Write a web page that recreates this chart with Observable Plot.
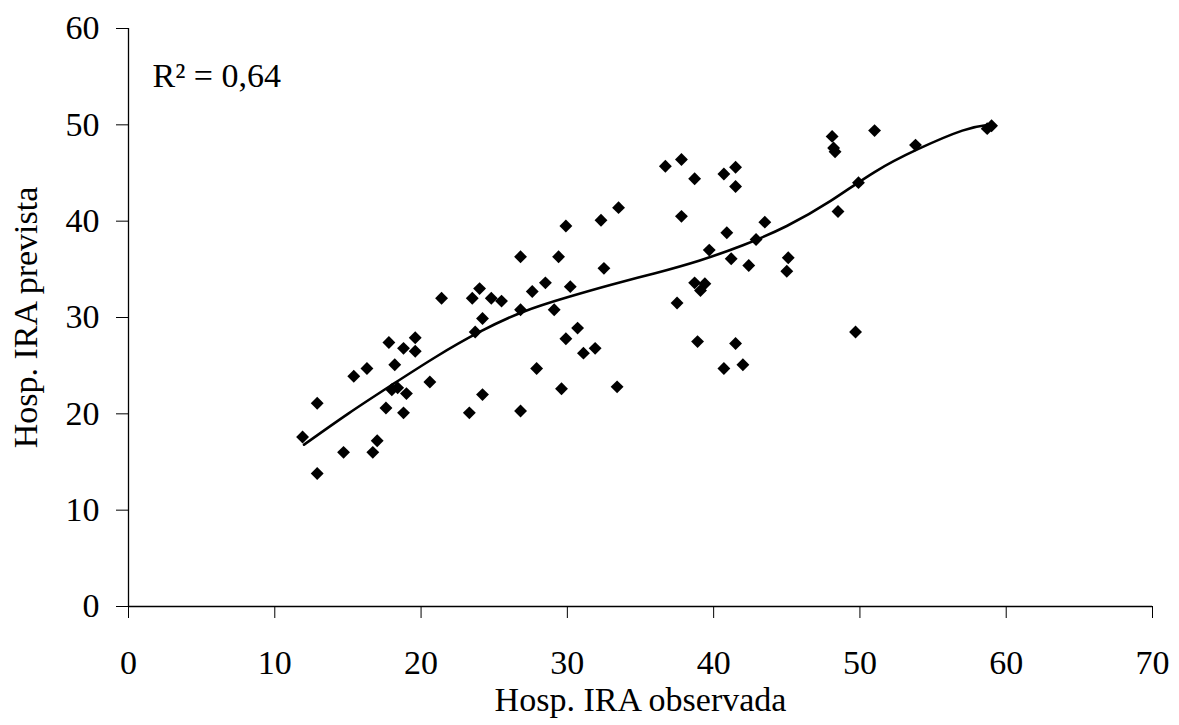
<!DOCTYPE html>
<html>
<head>
<meta charset="utf-8">
<script src="https://cdn.jsdelivr.net/npm/d3@7"></script>
<script src="https://cdn.jsdelivr.net/npm/@observablehq/plot@0.6"></script>
<style>
  html, body { margin: 0; padding: 0; background: #fff; }
  #chart svg { display: block; }
</style>
</head>
<body>
<div id="chart"></div>
<script>
// Observed (x) vs predicted (y) hospitalisations
const observada = [
  11.9, 12.9, 12.9, 14.7, 15.4, 16.3, 16.7, 17.0, 17.6, 17.8,
  18.0, 18.4, 18.2, 18.8, 18.8, 19.0, 19.6, 19.6, 20.6, 21.4,
  23.3, 23.5, 24.0, 23.7, 24.2, 24.2, 24.8, 25.5, 26.8, 26.8,
  26.8, 27.6, 28.5, 27.9, 29.1, 29.6, 29.9, 30.2, 30.7, 31.1,
  31.9, 29.4, 29.9, 32.3, 32.5, 33.4, 33.5, 36.7, 37.8, 37.8,
  37.5, 38.7, 38.7, 39.4, 39.1, 39.7, 38.9, 40.7, 41.5, 41.5,
  40.9, 41.2, 40.7, 41.5, 42.0, 42.4, 42.9, 43.5, 45.1, 45.0,
  48.1, 48.2, 48.3, 49.7, 49.9, 48.5, 51.0, 53.8, 58.7, 59.0
];
const prevista = [
  17.6, 21.1, 13.8, 16.0, 23.9, 24.7, 16.0, 17.2, 20.6, 27.4,
  22.5, 22.7, 25.1, 20.1, 26.8, 22.1, 27.9, 26.5, 23.3, 32.0,
  20.1, 32.0, 33.0, 28.5, 29.9, 22.0, 32.0, 31.7, 30.8, 20.3,
  36.3, 32.7, 33.6, 24.7, 30.8, 22.6, 27.8, 33.2, 28.9, 26.3,
  26.8, 36.3, 39.5, 40.1, 35.1, 22.8, 41.4, 45.7, 46.4, 40.5,
  31.5, 44.4, 33.6, 33.5, 32.8, 37.0, 27.5, 44.9, 45.6, 43.6,
  38.8, 36.1, 24.7, 27.3, 25.1, 35.4, 38.1, 39.9, 36.2, 34.8,
  48.8, 47.6, 47.2, 28.5, 44.0, 41.0, 49.4, 47.9, 49.6, 49.9
];

// Trend line
const trendX = [12, 15, 18, 21, 24, 27, 30, 33, 36, 39, 42, 45, 48, 51, 54, 57, 58.8];
const trendY = [16.8, 20.0, 23.0, 25.9, 28.5, 30.6, 32.1, 33.4, 34.6, 35.9, 37.5, 39.5, 42.1, 45.1, 47.5, 49.4, 50.0];

const xTicks = [0, 10, 20, 30, 40, 50, 60, 70];
const yTicks = [0, 10, 20, 30, 40, 50, 60];
const r2Label = "R² = 0,64";
const xLabel = "Hosp. IRA observada";
const yLabel = "Hosp. IRA prevista";

const points = observada.map((x, i) => ({x, y: prevista[i]}));
const trend = trendX.map((x, i) => ({x, y: trendY[i]}));

const FS = 34;

const chart = Plot.plot({
  width: 1179,
  height: 725,
  marginLeft: 128,
  marginRight: 27,
  marginTop: 28,
  marginBottom: 119,
  style: {fontFamily: "'Liberation Serif', 'Times New Roman', serif", fontSize: FS + "px", color: "#000", background: "#fff"},
  x: {domain: [0, 70]},
  y: {domain: [0, 60]},
  marks: [
    Plot.axisX({ticks: xTicks, tickSize: 12, tickPadding: 31, fontSize: FS, stroke: "#000", strokeWidth: 1,
      label: xLabel, labelAnchor: "center", labelOffset: 104, labelArrow: "none"}),
    Plot.axisY({ticks: yTicks, tickSize: 12, tickPadding: 17, fontSize: FS, stroke: "#000", strokeWidth: 1,
      label: yLabel, labelAnchor: "center", labelOffset: 116, labelArrow: "none"}),
    Plot.ruleY([0], {stroke: "#000", strokeWidth: 1.3}),
    Plot.ruleX([0], {stroke: "#000", strokeWidth: 1.3}),
    Plot.line(trend, {x: "x", y: "y", curve: "natural", stroke: "#000", strokeWidth: 2.6}),
    Plot.dot(points, {x: "x", y: "y", symbol: "diamond2", r: 5.8, fill: "#000", stroke: "none"}),
    Plot.text([r2Label], {frameAnchor: "top-left", dx: 24, dy: 34, text: d => d, textAnchor: "start", lineAnchor: "top", fontSize: FS, fill: "#000"})
  ]
});
document.getElementById("chart").append(chart);
</script>
</body>
</html>
